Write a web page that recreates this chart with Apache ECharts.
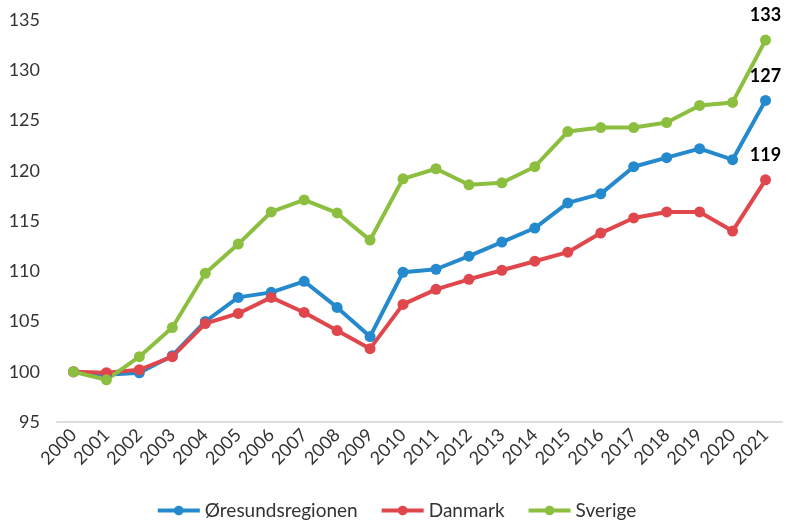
<!DOCTYPE html>
<html><head><meta charset="utf-8">
<script src="https://cdn.jsdelivr.net/npm/echarts@6/dist/echarts.min.js"></script>
<style>html,body{margin:0;padding:0;background:#fff}#c{width:792px;height:523px}</style>
</head><body><div id="c"></div>
<script>
const years = ['2000','2001','2002','2003','2004','2005','2006','2007','2008','2009','2010','2011','2012','2013','2014','2015','2016','2017','2018','2019','2020','2021'];
const oresund = [100,99.7,99.9,101.6,105.0,107.4,107.9,109.0,106.4,103.5,109.9,110.2,111.5,112.9,114.3,116.8,117.7,120.4,121.3,122.2,121.1,127.0];
const danmark = [100,99.9,100.2,101.5,104.8,105.8,107.4,105.9,104.1,102.3,106.7,108.2,109.2,110.1,111.0,111.9,113.8,115.3,115.9,115.9,114.0,119.1];
const sverige = [100,99.2,101.5,104.4,109.8,112.7,115.9,117.1,115.8,113.1,119.2,120.2,118.6,118.8,120.4,123.9,124.3,124.3,124.8,126.5,126.8,133.0];
const endLabels = ['127','119','133'];

const font = 'Lato, "Open Sans", sans-serif';
function mk(name, data, color, lbl) {
  return {
    name, type: 'line', data, symbol: 'circle', symbolSize: 11,
    lineStyle: { width: 4, color }, itemStyle: { color },
    label: { show: true, position: 'top', distance: 10,
      formatter: p => p.dataIndex === data.length - 1 ? lbl : '',
      fontFamily: font, fontWeight: 'bold', fontSize: 18, color: '#000' },
    z: 2
  };
}
const chart = echarts.init(document.getElementById('c'));
chart.setOption({
  animation: false,
  grid: { left: 57, right: 10, top: 20, bottom: 101 },
  legend: {
    bottom: -2, left: 'center', itemWidth: 42, itemHeight: 12, itemGap: 22,
    lineStyle: { width: 4 },
    textStyle: { fontFamily: font, fontSize: 19, color: '#333' },
    data: ['Øresundsregionen', 'Danmark', 'Sverige']
  },
  xAxis: {
    type: 'category', data: years, boundaryGap: true,
    axisLine: { lineStyle: { color: '#dddddd', width: 2 } },
    axisTick: { show: false },
    axisLabel: { interval: 0, rotate: 45, fontFamily: font, fontSize: 18, color: '#333', margin: 10 }
  },
  yAxis: {
    type: 'value', min: 95, max: 135, interval: 5,
    splitLine: { show: false }, axisLine: { show: false }, axisTick: { show: false },
    axisLabel: { fontFamily: font, fontSize: 18, color: '#333', margin: 17 }
  },
  series: [
    mk('Øresundsregionen', oresund, '#2589cd', endLabels[0]),
    mk('Danmark', danmark, '#e0474c', endLabels[1]),
    mk('Sverige', sverige, '#8cbf3f', endLabels[2])
  ]
});
</script></body></html>
